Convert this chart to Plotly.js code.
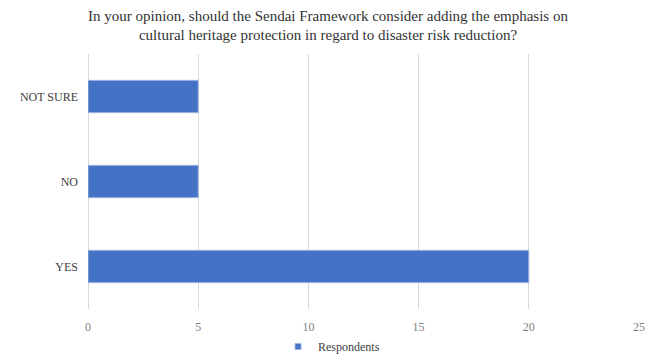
<!DOCTYPE html>
<html>
<head>
<meta charset="utf-8">
<script src="https://cdn.plot.ly/plotly-3.0.1.min.js"></script>
<style>html,body{margin:0;padding:0;background:#fff;}#chart{width:656px;height:361px;}</style>
</head>
<body>
<div id="chart"></div>
<script>
const categories = ["YES", "NO", "NOT SURE"];
const respondents = [20, 5, 5];
const seriesName = "Respondents";
const xTickValues = [0, 5, 10, 15, 20, 25];
const chartTitle = "In your opinion, should the Sendai Framework consider adding the emphasis on<br>cultural heritage protection in regard to disaster risk reduction?";

const SERIF = "'Liberation Serif', 'DejaVu Serif', 'Times New Roman', serif";

const barTrace = {
  type: "bar",
  orientation: "h",
  y: categories,
  x: respondents,
  name: seriesName,
  showlegend: false,
  marker: {color: "#4472C4", line: {color: "#9db4e0", width: 1}},
  hoverinfo: "x+y"
};

const legendTrace = {
  type: "scatter",
  mode: "markers",
  x: [null],
  y: [null],
  name: seriesName,
  showlegend: true,
  marker: {symbol: "square", size: 6, color: "#4472C4", line: {color: "#9db4e0", width: 1}}
};

const layout = {
  width: 656,
  height: 361,
  paper_bgcolor: "#ffffff",
  plot_bgcolor: "#ffffff",
  margin: {l: 88, r: 17, t: 54, b: 52},
  font: {family: SERIF, color: "#404040"},
  title: {
    text: chartTitle,
    font: {family: SERIF, size: 15, color: "#333333"},
    x: 0.5, xanchor: "center",
    yref: "container",
    y: 0.942, yanchor: "top",
    automargin: false
  },
  bargap: 0.62,
  showlegend: true,
  legend: {
    orientation: "h",
    x: 0.442, xanchor: "center",
    yref: "container",
    y: -0.015, yanchor: "bottom",
    font: {family: SERIF, size: 12, color: "#404040"},
    itemwidth: 30
  },
  xaxis: {
    range: [0, 25],
    tickvals: xTickValues,
    showgrid: true,
    gridcolor: "#d9d9d9",
    gridwidth: 1,
    zeroline: true,
    zerolinecolor: "#d9d9d9",
    zerolinewidth: 1,
    showline: false,
    ticks: "",
    ticklabelstandoff: 9,
    tickfont: {family: SERIF, size: 12, color: "#808080"},
    fixedrange: true
  },
  yaxis: {
    showgrid: false,
    zeroline: false,
    showline: false,
    ticks: "",
    ticklabelstandoff: 9,
    tickfont: {family: SERIF, size: 12, color: "#404040"},
    fixedrange: true
  }
};

Plotly.newPlot("chart", [barTrace, legendTrace], layout, {displayModeBar: false, staticPlot: true});
</script>
</body>
</html>
